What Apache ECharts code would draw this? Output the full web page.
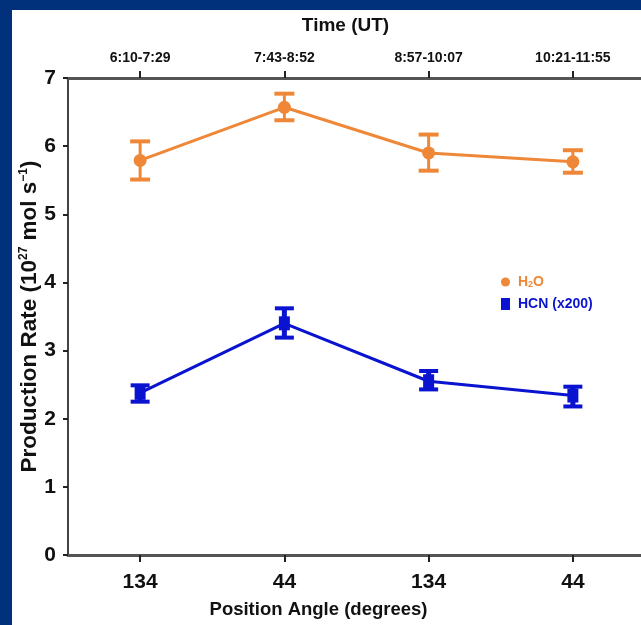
<!DOCTYPE html>
<html>
<head>
<meta charset="utf-8">
<script src="https://cdn.jsdelivr.net/npm/echarts@6/dist/echarts.min.js"></script>
<style>
html,body{margin:0;padding:0;width:641px;height:625px;background:#00317a;overflow:hidden;}
#c{position:absolute;left:12px;top:10px;width:629px;height:615px;background:#fff;}
</style>
</head>
<body>
<div id="c"></div>
<script>
const timeLabels = ['6:10-7:29', '7:43-8:52', '8:57-10:07', '10:21-11:55'];
const angleLabels = ['134', '44', '134', '44'];
const h2oRate = [5.79, 6.57, 5.90, 5.77];
const h2oLow  = [5.51, 6.38, 5.64, 5.61];
const h2oHigh = [6.07, 6.77, 6.17, 5.94];
const hcnRate = [2.38, 3.40, 2.55, 2.34];
const hcnLow  = [2.25, 3.19, 2.43, 2.18];
const hcnHigh = [2.49, 3.62, 2.70, 2.47];
const yTicks = [0, 1, 2, 3, 4, 5, 6, 7];

const ORANGE = '#ee8838';
const BLUE = '#0a14d0';
const FONT = "'Liberation Sans', Arial, sans-serif";

function errRender(color, capW, stemW, capH) {
  return function (params, api) {
    const x = api.value(0);
    const lo = api.coord([x, api.value(1)]);
    const hi = api.coord([x, api.value(2)]);
    const st = { stroke: color, lineWidth: stemW };
    const cs = { stroke: color, lineWidth: capH };
    return {
      type: 'group',
      children: [
        { type: 'line', shape: { x1: lo[0], y1: lo[1], x2: hi[0], y2: hi[1] }, style: st },
        { type: 'line', shape: { x1: hi[0] - capW / 2, y1: hi[1], x2: hi[0] + capW / 2, y2: hi[1] }, style: cs },
        { type: 'line', shape: { x1: lo[0] - capW / 2, y1: lo[1], x2: lo[0] + capW / 2, y2: lo[1] }, style: cs }
      ]
    };
  };
}

const chart = echarts.init(document.getElementById('c'), null, { renderer: 'canvas' });
chart.setOption({
  animation: false,
  backgroundColor: '#ffffff',
  grid: { left: 56, top: 68, bottom: 70, width: 577, outerBoundsMode: 'none', containLabel: false },
  legend: {
    orient: 'vertical',
    left: 484,
    top: 260,
    itemWidth: 9,
    itemHeight: 12,
    itemGap: 8,
    data: [
      { name: 'H2O', icon: 'circle' },
      { name: 'HCN (x200)', icon: 'rect' }
    ],
    formatter: function (name) {
      if (name === 'H2O') return '{o|H}{os|2}{o|O}';
      return '{b|' + name + '}';
    },
    textStyle: {
      padding: [0, 0, 0, 3],
      rich: {
        o: { color: ORANGE, fontFamily: FONT, fontWeight: 'bold', fontSize: 14, lineHeight: 14 },
        os: { color: ORANGE, fontFamily: FONT, fontWeight: 'bold', fontSize: 9, lineHeight: 14, verticalAlign: 'bottom' },
        b: { color: BLUE, fontFamily: FONT, fontWeight: 'bold', fontSize: 14, lineHeight: 14 }
      }
    }
  },
  xAxis: [
    {
      type: 'category',
      position: 'bottom',
      data: angleLabels,
      boundaryGap: true,
      name: 'Position Angle (degrees)',
      nameLocation: 'middle',
      nameMoveOverlap: false,
      nameGap: 45,
      nameTextStyle: { fontFamily: FONT, fontWeight: 'bold', fontSize: 18.5, color: '#111', padding: [0, 76, 0, 0] },
      axisLine: { show: true, lineStyle: { color: '#555', width: 3 } },
      axisTick: { show: true, alignWithLabel: true, length: 7, lineStyle: { color: '#222', width: 2 } },
      axisLabel: { fontFamily: FONT, fontWeight: 'bold', fontSize: 21, color: '#111', margin: 17 },
      splitLine: { show: false }
    },
    {
      type: 'category',
      position: 'top',
      data: timeLabels,
      boundaryGap: true,
      name: 'Time (UT)',
      nameLocation: 'middle',
      nameMoveOverlap: false,
      nameGap: 43,
      nameTextStyle: { fontFamily: FONT, fontWeight: 'bold', fontSize: 19, color: '#111', padding: [0, 22, 0, 0] },
      axisLine: { show: true, lineStyle: { color: '#555', width: 3 } },
      axisTick: { show: true, alignWithLabel: true, length: 7, lineStyle: { color: '#222', width: 2 } },
      axisLabel: { fontFamily: FONT, fontWeight: 'bold', fontSize: 14, color: '#111', margin: 13 },
      splitLine: { show: false }
    }
  ],
  yAxis: {
    type: 'value',
    min: yTicks[0],
    max: yTicks[yTicks.length - 1],
    interval: 1,
    name: '{a|Production Rate (10}{s|27}{a| mol s}{s|−1}{a|)}',
    nameLocation: 'middle',
    nameMoveOverlap: false,
    nameGap: 26,
    nameRotate: 90,
    nameTextStyle: {
      rich: {
        a: { fontFamily: FONT, fontWeight: 'bold', fontSize: 22.5, color: '#111', lineHeight: 24 },
        s: { fontFamily: FONT, fontWeight: 'bold', fontSize: 12, color: '#111', lineHeight: 24, verticalAlign: 'top' }
      }
    },
    axisLine: { show: true, lineStyle: { color: '#444', width: 2 } },
    axisTick: { show: true, length: 5, lineStyle: { color: '#222', width: 2 } },
    axisLabel: { fontFamily: FONT, fontWeight: 'bold', fontSize: 21, color: '#111', margin: 12 },
    splitLine: { show: false }
  },
  series: [
    {
      name: 'H2O',
      type: 'line',
      xAxisIndex: 0,
      data: h2oRate,
      symbol: 'circle',
      symbolSize: 13,
      itemStyle: { color: ORANGE },
      lineStyle: { color: ORANGE, width: 3 },
      z: 3
    },
    {
      name: 'HCN (x200)',
      type: 'line',
      xAxisIndex: 0,
      data: hcnRate,
      symbol: 'rect',
      symbolSize: [11, 14],
      itemStyle: { color: BLUE },
      lineStyle: { color: BLUE, width: 3 },
      z: 3
    },
    {
      name: 'H2O err',
      type: 'custom',
      xAxisIndex: 0,
      renderItem: errRender(ORANGE, 20, 3, 4),
      data: h2oLow.map((v, i) => [i, v, h2oHigh[i]]),
      z: 2
    },
    {
      name: 'HCN err',
      type: 'custom',
      xAxisIndex: 0,
      renderItem: errRender(BLUE, 19, 5, 4),
      data: hcnLow.map((v, i) => [i, v, hcnHigh[i]]),
      z: 2
    }
  ]
});
</script>
</body>
</html>
